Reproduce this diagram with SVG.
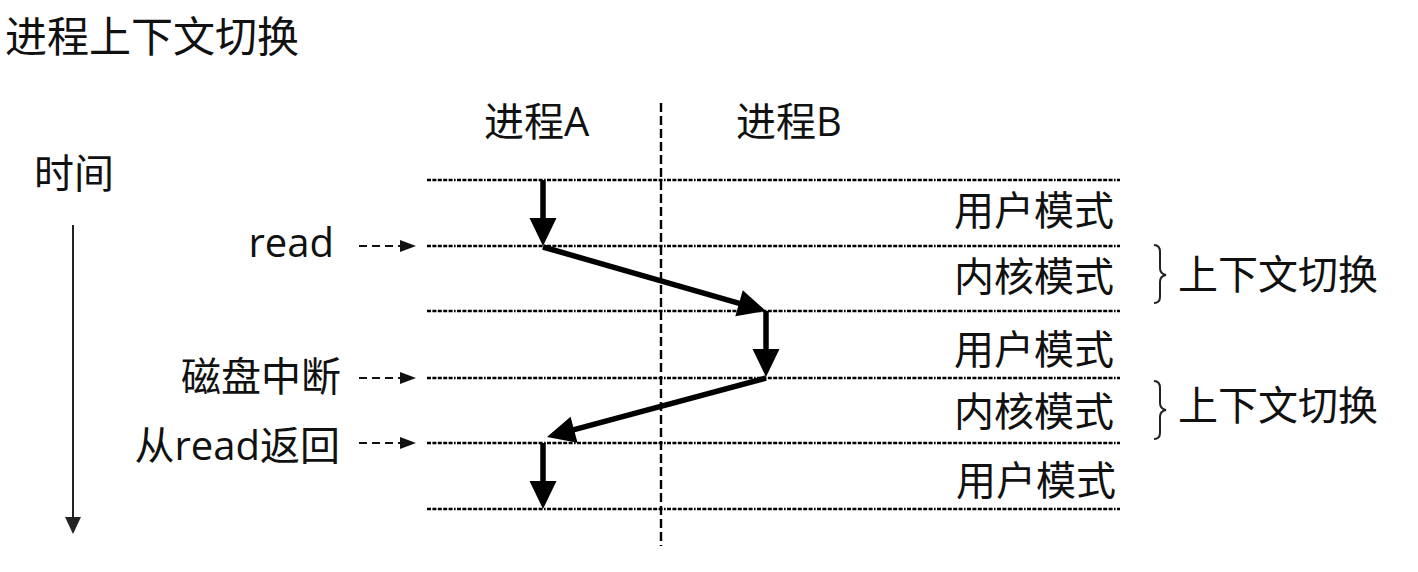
<svg xmlns="http://www.w3.org/2000/svg" width="1418" height="572" viewBox="0 0 1418 572">
  <style>
    text { font-family: "Open Sans", "Noto Sans CJK SC", sans-serif; fill: #111; }
    .title { font-size: 42px; }
    .lbl { font-size: 40px; }
    .end { text-anchor: end; }
    .level { stroke: #000; stroke-width: 2.4; stroke-dasharray: 4 1.4 4 1.4 4 1.4 4 1.4 4 1.4 1.6 1.4; fill: none; }
    .divider { stroke: #000; stroke-width: 2.4; stroke-dasharray: 9 4; fill: none; }
    .flow { stroke: #000; stroke-width: 5.5; fill: none; marker-end: url(#head); }
    .hint { stroke: #111; stroke-width: 2; stroke-dasharray: 8 5; fill: none; marker-end: url(#small); }
    .brace { stroke: #222; stroke-width: 2; fill: none; }
  </style>
  <defs>
    <marker id="head" markerUnits="userSpaceOnUse" markerWidth="28" markerHeight="27" refX="22" refY="13.5" orient="auto" overflow="visible">
      <path d="M0,0 L28,13.5 L0,27 Z" fill="#000"/>
    </marker>
    <marker id="small" markerUnits="userSpaceOnUse" markerWidth="16" markerHeight="12" refX="2" refY="6" orient="auto" overflow="visible">
      <path d="M0,0 L16,6 L0,12 Z" fill="#111"/>
    </marker>
  </defs>

  <rect width="1418" height="572" fill="#fff"/>

  <text class="title" x="5" y="52">进程上下文切换</text>

  <!-- time axis -->
  <g id="time-axis">
    <text class="lbl" x="34" y="188">时间</text>
    <line x1="73" y1="225" x2="73" y2="518" stroke="#222" stroke-width="2"/>
    <path d="M65,517 L81,517 L73,534 Z" fill="#222"/>
  </g>

  <!-- process columns -->
  <g id="proc-a"><text class="lbl" x="484" y="136">进程A</text></g>
  <g id="proc-b"><text class="lbl" x="736" y="136">进程B</text></g>

  <!-- mode boundaries and column divider -->
  <g id="grid">
    <line class="divider" x1="661" y1="103" x2="661" y2="546"/>
    <line class="level" x1="427" y1="180" x2="1120" y2="180"/>
    <line class="level" x1="427" y1="246" x2="1120" y2="246"/>
    <line class="level" x1="427" y1="311" x2="1120" y2="311"/>
    <line class="level" x1="427" y1="378" x2="1120" y2="378"/>
    <line class="level" x1="427" y1="443" x2="1120" y2="443"/>
    <line class="level" x1="427" y1="509" x2="1120" y2="509"/>
  </g>

  <!-- event labels -->
  <g id="ev-read"><text class="lbl end" x="334" y="257">read</text></g>
  <g id="ev-disk"><text class="lbl end" x="341" y="391">磁盘中断</text></g>
  <g id="ev-return"><text class="lbl end" x="340" y="460">从read返回</text></g>

  <!-- mode labels -->
  <g id="mode-1"><text class="lbl end" x="1114" y="225">用户模式</text></g>
  <g id="mode-2"><text class="lbl end" x="1114" y="291">内核模式</text></g>
  <g id="mode-3"><text class="lbl end" x="1114" y="364">用户模式</text></g>
  <g id="mode-4"><text class="lbl end" x="1114" y="426">内核模式</text></g>
  <g id="mode-5"><text class="lbl end" x="1116" y="495">用户模式</text></g>

  <!-- context switch annotations -->
  <g id="switch-1">
    <path class="brace" d="M1154,245 Q1160,245 1160,252 L1160,268 Q1160,274 1166,275 Q1160,276 1160,282 L1160,297 Q1160,303 1154,303"/>
    <text class="lbl" x="1178" y="289">上下文切换</text>
  </g>
  <g id="switch-2">
    <path class="brace" d="M1154,381 Q1160,381 1160,388 L1160,403 Q1160,409 1166,410 Q1160,411 1160,417 L1160,433 Q1160,439 1154,439"/>
    <text class="lbl" x="1178" y="420">上下文切换</text>
  </g>

  <!-- connectors -->
  <g id="connectors">
    <line class="hint" x1="359" y1="246" x2="402" y2="246"/>
    <line class="hint" x1="359" y1="378" x2="402" y2="378"/>
    <line class="hint" x1="359" y1="443" x2="402" y2="443"/>
    <line class="flow" x1="543" y1="180" x2="543" y2="240"/>
    <line class="flow" x1="543" y1="247" x2="760.2" y2="309.3"/>
    <line class="flow" x1="766" y1="311" x2="766" y2="371"/>
    <line class="flow" x1="766" y1="378" x2="552.8" y2="435.4"/>
    <line class="flow" x1="543" y1="443" x2="543" y2="503"/>
  </g>
</svg>
